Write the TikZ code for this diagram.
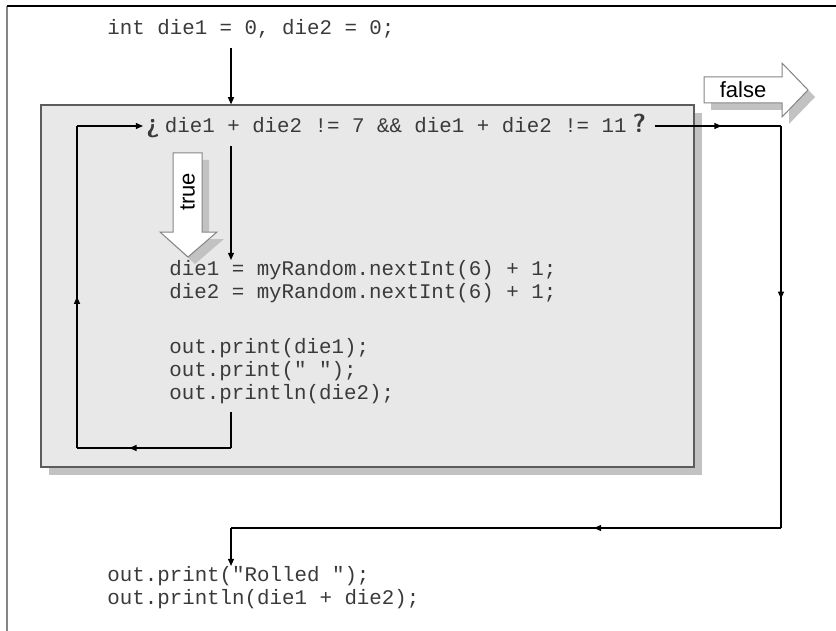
\documentclass[tikz,border=0pt]{standalone}
\usepackage{fontspec}
\setmainfont{Liberation Sans}
\setmonofont{Liberation Mono}
\usetikzlibrary{arrows.meta,decorations.markings,shadows}
\definecolor{Ink}{HTML}{3A3A3A}
\definecolor{Panel}{HTML}{E8E8E8}
\definecolor{PanelEdge}{HTML}{5C5C5C}
\definecolor{Shade}{HTML}{C2C2C2}
\definecolor{Edge}{HTML}{858585}
\newcommand{\qmark}[1]{{\sffamily\bfseries\fontsize{13}{14}\selectfont #1}}
\tikzset{
  code/.style={font=\ttfamily\fontsize{10.4}{11.4}\selectfont,text=Ink,
               align=left,inner sep=0pt},
  flow/.style={line width=0.6pt},
  tip/.style={-{Triangle[length=3.6pt,width=3pt]}},
  midtip/.style={postaction={decorate},decoration={markings,
      mark=at position #1 with {\arrow{Triangle[length=3.6pt,width=3pt]}}}},
  panel/.style={draw=PanelEdge,fill=Panel,line width=0.6pt,inner sep=0pt,
                minimum width=326.5pt,minimum height=181pt,
                drop shadow={shadow xshift=4pt,shadow yshift=-4pt,
                             fill=Shade,opacity=1}},
  bigarrow/.style={fill=white,draw=Edge,line width=0.5pt},
  flagtext/.style={font=\fontsize{11}{12}\selectfont,inner sep=0pt}
}

\begin{document}
\begin{tikzpicture}[x=0.5pt,y=-0.5pt]
  \useasboundingbox (0,0) rectangle (836,631);
  % frame
  \draw[Edge,line width=1pt] (7,631) -- (7,6);
  \draw[line width=0.7pt] (7,6) -- (836,6);

  % loop body
  \node[panel] (panel) at (367.5,286) {};

  % code
  \node[code,anchor=west] (init) at (107,29) {int die1 = 0, die2 = 0;};
  \node[code,anchor=west] (cond) at (146,126)
    {\qmark{¿}\hspace{2.5pt}die1 + die2 != 7 \&\& die1 + die2 != 11\hspace{3pt}\qmark{?}};
  \node[code,anchor=north west] (roll) at (169,260)
    {die1 = myRandom.nextInt(6) + 1;\\die2 = myRandom.nextInt(6) + 1;};
  \node[code,anchor=north west] (show) at (169,338)
    {out.print(die1);\\out.print(" ");\\out.println(die2);};
  \node[code,anchor=north west] (after) at (107,566)
    {out.print("Rolled ");\\out.println(die1 + die2);};

  % true / false flags
  \fill[Shade] (180,160) -- (209,160) -- (209,239) -- (224,239) -- (195,264)
    -- (167,239) -- (180,239) -- cycle;
  \filldraw[bigarrow] (173,153) -- (202,153) -- (202,232) -- (217,232) -- (188,257)
    -- (160,232) -- (173,232) -- cycle;
  \node[flagtext,rotate=90] (truelbl) at (187.5,192) {true};

  \fill[Shade] (711,84) -- (789,84) -- (789,70) -- (815,97) -- (789,124)
    -- (789,110) -- (711,110) -- cycle;
  \filldraw[bigarrow] (704,77) -- (782,77) -- (782,63) -- (808,90) -- (782,117)
    -- (782,103) -- (704,103) -- cycle;
  \node[flagtext] (falselbl) at (743,90) {false};

  % corner points
  \coordinate (initout) at (231,48);
  \coordinate (condout) at (231,146);
  \coordinate (loopstart) at (231,412);
  \coordinate (loopbr) at (231,448);
  \coordinate (loopbl) at (77,448);
  \coordinate (looptl) at (77,126);
  \coordinate (exittr) at (781,126);
  \coordinate (exitbr) at (781,528);
  \coordinate (exitbl) at (231,528);

  % flow
  \draw[flow,tip] (initout) -- (panel.north -| initout);
  \draw[flow,tip] (condout) -- (roll.north -| condout);
  \draw[flow] (loopstart) -- (loopbr);
  \draw[flow,midtip=0.66] (loopbr) -- (loopbl);
  \draw[flow,midtip=0.47] (loopbl) -- (looptl);
  \draw[flow,tip,shorten >=1.5pt] (looptl) -- (cond.west);
  \draw[flow,midtip=0.53] ([xshift=4pt]cond.east) -- (exittr);
  \draw[flow,midtip=0.43] (exittr) -- (exitbr);
  \draw[flow,midtip=0.34] (exitbr) -- (exitbl);
  \draw[flow,tip] (exitbl) -- (after.north -| exitbl);
\end{tikzpicture}
\end{document}
